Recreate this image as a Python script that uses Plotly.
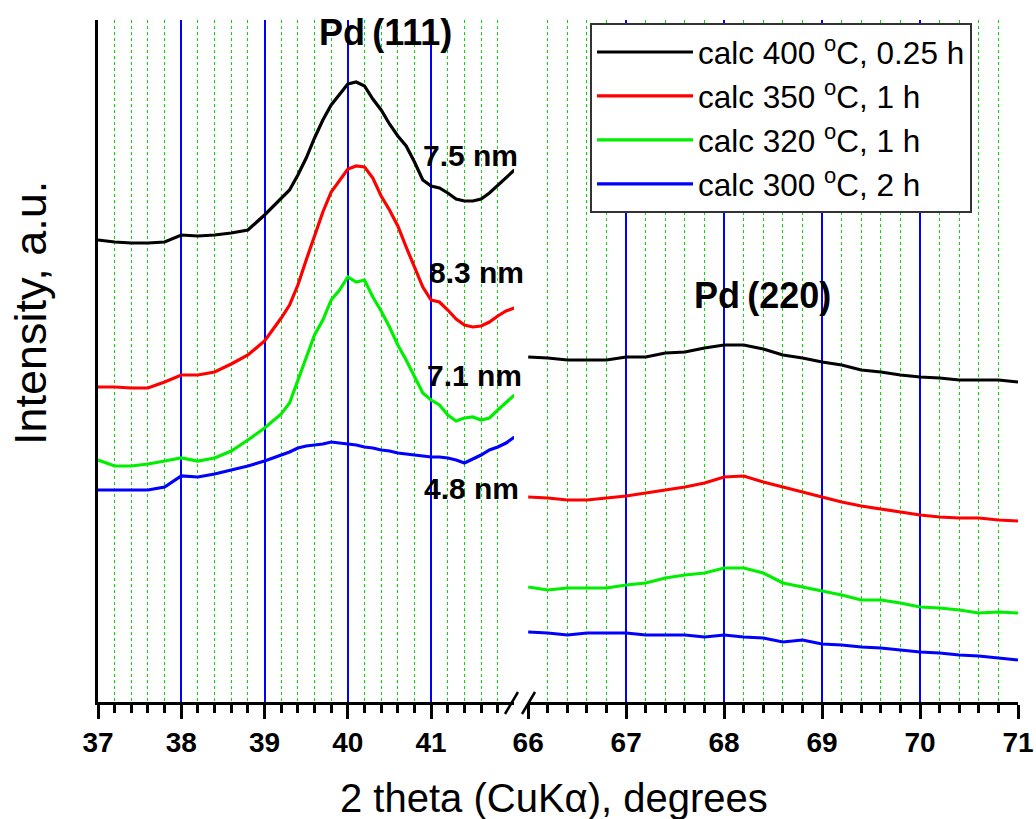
import plotly.graph_objects as go

# ---------------- data ----------------
theta_left = [37.0, 37.2, 37.4, 37.6, 37.8, 38.0, 38.2, 38.4, 38.6, 38.8, 39.0, 39.2, 39.3,
              39.4, 39.5, 39.6, 39.7, 39.8, 39.9, 40.0, 40.1, 40.2, 40.3, 40.4, 40.5, 40.6,
              40.7, 40.8, 40.9, 41.0, 41.1, 41.2, 41.3, 41.4, 41.5, 41.6, 41.7, 41.8, 41.9, 42.0]
theta_right = [66.0, 66.2, 66.4, 66.6, 66.8, 67.0, 67.2, 67.4, 67.6, 67.8, 68.0, 68.2, 68.4,
               68.6, 68.8, 69.0, 69.2, 69.4, 69.6, 69.8, 70.0, 70.2, 70.4, 70.6, 70.8, 71.0]

i400_left = [462, 460, 459, 459, 460, 467, 466, 467, 469, 472, 487, 503, 512, 527, 544, 564,
             582, 597, 607, 618, 620, 616, 603, 592, 578, 566, 556, 540, 522, 516, 514, 509,
             503, 501, 501, 503, 509, 517, 524, 532]
i350_left = [315, 315, 314, 314, 320, 327, 327, 330, 338, 347, 361, 384, 397, 417, 442, 466,
             490, 510, 522, 533, 536, 535, 524, 506, 492, 476, 455, 434, 415, 402, 400, 392,
             383, 377, 375, 376, 380, 386, 391, 394]
i320_left = [242, 236, 236, 238, 241, 244, 241, 244, 251, 262, 274, 288, 299, 322, 344, 367,
             382, 402, 412, 425, 420, 422, 405, 391, 375, 357, 342, 325, 309, 302, 297, 287,
             281, 284, 285, 282, 284, 292, 299, 307]
i300_left = [212, 212, 212, 212, 215, 226, 225, 228, 232, 236, 241, 247, 250, 254, 256, 257,
             258, 260, 259, 258, 257, 255, 254, 252, 251, 249, 248, 247, 246, 245, 245, 244,
             242, 239, 243, 247, 252, 255, 259, 265]

i400_right = [345, 344, 342, 342, 342, 345, 345, 349, 350, 354, 357, 357, 353, 347, 344, 340,
              337, 332, 330, 327, 325, 324, 322, 322, 322, 320]
i350_right = [205, 204, 202, 202, 204, 206, 209, 212, 215, 219, 225, 226, 220, 215, 210, 205,
              200, 196, 193, 190, 187, 185, 184, 184, 182, 181]
i320_right = [115, 112, 114, 114, 114, 117, 119, 124, 127, 129, 134, 134, 129, 119, 115, 111,
              107, 102, 102, 99, 95, 94, 92, 89, 90, 89]
i300_right = [70, 69, 67, 69, 69, 69, 67, 67, 67, 65, 67, 65, 64, 60, 62, 58, 57, 55, 54, 52,
              50, 49, 47, 46, 44, 42]

series_names = ["calc 400 <sup>o</sup>C, 0.25 h", "calc 350 <sup>o</sup>C, 1 h",
                "calc 320 <sup>o</sup>C, 1 h", "calc 300 <sup>o</sup>C, 2 h"]
series_colors = ["#000000", "#ff0000", "#00ee00", "#0000ff"]
left_values = [i400_left, i350_left, i320_left, i300_left]
right_values = [i400_right, i350_right, i320_right, i300_right]

size_labels = ["7.5 nm", "8.3 nm", "7.1 nm", "4.8 nm"]
size_label_x = [41.47, 41.54, 41.52, 41.49]
size_label_y = [547, 430, 327, 214]

ticks_left = [37, 38, 39, 40, 41]
ticks_right = [66, 67, 68, 69, 70, 71]
minor_left = [round(37 + 0.2 * k, 1) for k in range(25) if k % 5]
minor_right = [round(66 + 0.2 * k, 1) for k in range(26) if k % 5]

FONT = "Liberation Sans, Arial, sans-serif"

fig = go.Figure()
for name, col, yl, yr in zip(series_names, series_colors, left_values, right_values):
    fig.add_trace(go.Scatter(x=theta_left, y=yl, mode="lines", name=name,
                             line=dict(color=col, width=3.2), legendgroup=name,
                             xaxis="x", yaxis="y"))
    fig.add_trace(go.Scatter(x=theta_right, y=yr, mode="lines", name=name,
                             line=dict(color=col, width=3.2), legendgroup=name,
                             showlegend=False, xaxis="x2", yaxis="y"))

split_l = (514 - 98) / 920
split_r = (528 - 98) / 920

xcommon = dict(showline=True, linecolor="black", linewidth=2.5, zeroline=False,
               ticks="outside", ticklen=14, tickwidth=2.5, tickcolor="black",
               showgrid=True, gridcolor="#0000ff", gridwidth=1.5, automargin=False,
               tickfont=dict(family=FONT, size=28, color="black", weight="bold"),
               anchor="y")
minor_common = dict(tickmode="array", ticklen=8, tickwidth=2.5, tickcolor="black",
                    ticks="outside", showgrid=True, gridcolor="#00dd00",
                    griddash="dot", gridwidth=1.2)

fig.update_layout(
    width=1036, height=819,
    margin=dict(l=98, r=18, t=20, b=117, autoexpand=False),
    paper_bgcolor="white", plot_bgcolor="white",
    showlegend=True,
    xaxis=dict(domain=[0, split_l], range=[37, 41.995], tickmode="array",
               tickvals=ticks_left, minor=dict(tickvals=minor_left, **minor_common),
               **xcommon),
    xaxis2=dict(domain=[split_r, 1], range=[65.998, 71], tickmode="array",
                tickvals=ticks_right, minor=dict(tickvals=minor_right, **minor_common),
                **xcommon),
    yaxis=dict(range=[0, 682], showline=True, linecolor="black", linewidth=2.5,
               showticklabels=False, ticks="", showgrid=False, zeroline=False),
    legend=dict(x=(590 - 98) / 920, y=(702 - 23) / 682, xanchor="left", yanchor="top",
                bgcolor="white", bordercolor="#333333", borderwidth=2,
                font=dict(family=FONT, size=31.5, color="black"),
                itemwidth=96, tracegroupgap=0),
)

annotations = [
    dict(text="Pd\u2009(111)", x=40.45, y=670, xref="x", yref="y", showarrow=False,
         font=dict(family=FONT, size=36, color="black", weight="bold")),
    dict(text="Pd\u2009(220)", x=68.39, y=407, xref="x2", yref="y", showarrow=False,
         font=dict(family=FONT, size=36, color="black", weight="bold")),
    dict(text="2 theta (CuK\u03b1), degrees", x=(554 - 98) / 920, y=-(798 - 702) / 682,
         xref="paper", yref="paper", showarrow=False, xanchor="center", yanchor="middle",
         font=dict(family=FONT, size=40, color="black")),
    dict(text="Intensity, a.u.", x=(31 - 98) / 920, y=(702 - 313) / 682, textangle=-90,
         xref="paper", yref="paper", showarrow=False, xanchor="center", yanchor="middle",
         font=dict(family=FONT, size=45, color="black")),
]
for t, lx, ly in zip(size_labels, size_label_x, size_label_y):
    annotations.append(dict(text=t, x=lx, y=ly, xref="x", yref="y", showarrow=False,
                            font=dict(family=FONT, size=30, color="black", weight="bold")))
fig.update_layout(annotations=annotations)

# axis-break marks
for x0, x1 in [(505, 518), (522, 535)]:
    fig.add_shape(type="line", xref="paper", yref="paper",
                  x0=(x0 - 98) / 920, x1=(x1 - 98) / 920,
                  y0=-(714 - 702) / 682, y1=(702 - 692) / 682,
                  line=dict(color="black", width=2.5))

fig.write_html("out.html")
